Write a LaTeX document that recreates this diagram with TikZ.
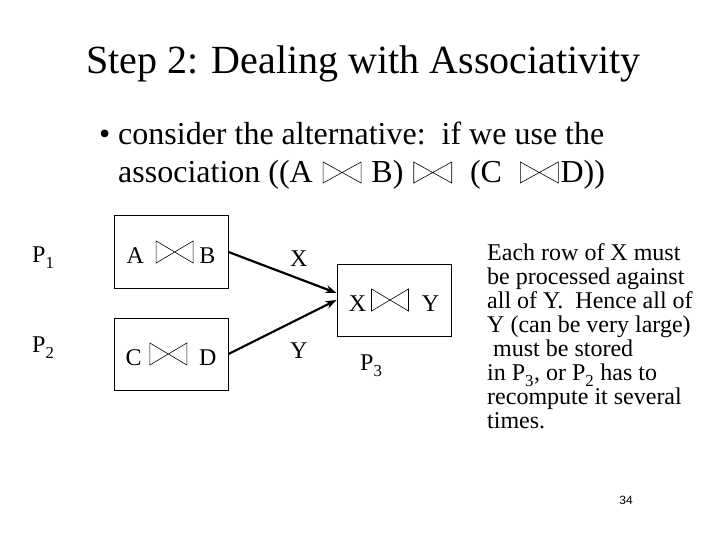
\documentclass[tikz,border=0pt]{standalone}
\usepackage{fontspec}
\setmainfont{Liberation Serif}
\newfontfamily\numfont{Liberation Sans}
\usetikzlibrary{arrows.meta,positioning}
\newcommand{\joinsym}[2]{\tikz[baseline=0pt]\draw[line width=0.6pt] (0,0) -- (#1pt,#2pt) -- (#1pt,0) -- (0,#2pt) -- cycle;}
\newcommand{\psub}[1]{\raisebox{-0.12em}{\textsubscript{#1}}}
\tikzset{
  relbox/.style={draw,line width=1pt,minimum width=114pt,minimum height=72pt,inner sep=0pt,font=\fontsize{24}{24}\selectfont},
  lbl/.style={inner sep=0pt,anchor=base west,font=\fontsize{24}{24}\selectfont},
  flow/.style={line width=2.2pt,-{Stealth[length=11pt,width=8pt]}}
}
\begin{document}
\begin{tikzpicture}[x=1pt,y=-1pt]
  \fill[white] (0,0) rectangle (720,540);
  \useasboundingbox (0,0) rectangle (720,540);
  \node[anchor=base,inner sep=0pt,font=\fontsize{40}{48}\selectfont] (title) at (363.5,74) {Step 2: Dealing with Associativity};
  \node[anchor=base west,inner sep=0pt,font=\fontsize{32}{38}\selectfont] (dot) at (99,145) {•};
  \node[anchor=base west,inner sep=0pt,font=\fontsize{32}{38}\selectfont] (line1) at (118,145) {consider the alternative:\ \ if we use the};
  \node[anchor=base west,inner sep=0pt,font=\fontsize{32}{38}\selectfont] (line2) at (118,183) {association ((A \hspace{2pt}\joinsym{38}{21}\hspace{2pt} B) \hspace{2pt}\joinsym{38}{21}\hspace{2pt}\ \ (C\ \ \hspace{2pt}\joinsym{38}{21}\hspace{2pt}D))};

  \node[relbox] (ab) at (171,252) {A\hspace{12pt}\joinsym{37}{22}\hspace{6pt}B};
  \node[relbox] (cd) at (171,354) {C\hspace{8pt}\joinsym{37}{22}\hspace{12pt}D};
  \node[relbox] (xy) at (394,300) {X\hspace{5pt}\joinsym{37}{22}\hspace{13pt}Y};
  \node[lbl] (p1) at (32,262) {P\psub{1}};
  \node[lbl] (p2) at (32,352) {P\psub{2}};
  \node[lbl] (p3) at (360,370) {P\psub{3}};
  \node[lbl] (xlab) at (290,266) {X};
  \node[lbl] (ylab) at (290,358) {Y};
  \draw[flow] (ab.east) -- ([yshift=7pt]xy.west);
  \draw[flow] (cd.east) -- (xy.west);

  \node[anchor=north west,inner sep=0pt,align=left,font=\fontsize{24}{24}\selectfont] (note) at (487,243) {Each row of X must\\be processed against\\all of Y.\ \ Hence all of\\Y (can be very large)\\\hspace*{6pt}must be stored\\in P\psub{3}, or P\psub{2} has to\\recompute it several\\times.};
  \node[anchor=base,inner sep=0pt,font=\numfont\fontsize{12}{14}\selectfont] (pnum) at (626,504) {34};
\end{tikzpicture}
\end{document}
